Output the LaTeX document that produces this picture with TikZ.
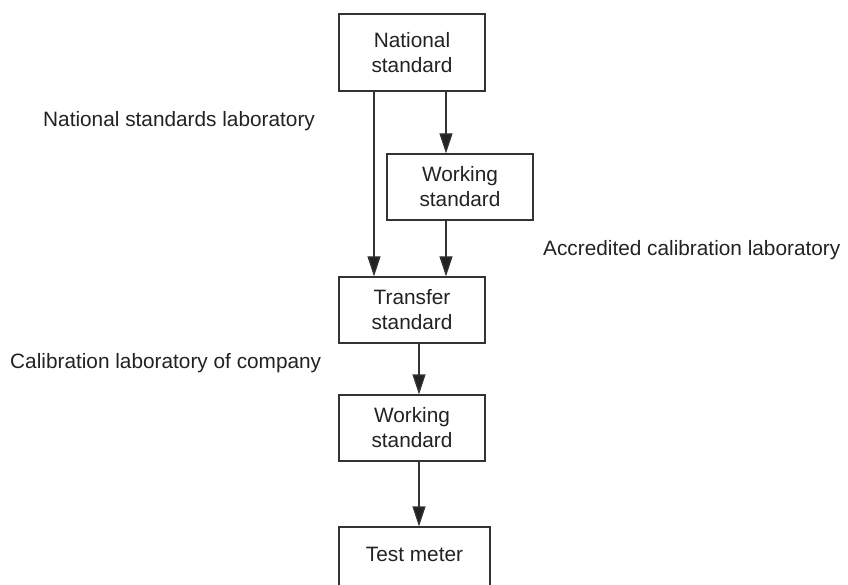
\documentclass[tikz,border=0pt]{standalone}
\usepackage{fontspec}
\setmainfont{Liberation Sans}
\usetikzlibrary{arrows.meta}
\definecolor{linegray}{HTML}{333333}
\definecolor{textgray}{HTML}{222222}

\tikzset{
  stdbox/.style={draw=linegray, line width=1.3, minimum width=146, minimum height=66,
    inner sep=0, align=center, text=textgray, font=\fontsize{20.8}{25}\selectfont},
  labtext/.style={anchor=base west, inner sep=0, text=textgray, font=\fontsize{20.8}{25}\selectfont},
  flow/.style={draw=linegray, line width=1.3, -{Triangle[length=20, width=13, fill=textgray]}}
}

\begin{document}
\begin{tikzpicture}[x=1pt, y=-1pt]
\useasboundingbox (0, 0) rectangle (848, 585);
\clip (0, 0) rectangle (848, 585);

% boxes
\node [stdbox, minimum height=77] (natstd) at (412, 52.5) {National\\standard};
\node [stdbox] (work1) at (460, 187) {Working\\standard};
\node [stdbox] (transfer) at (412, 310) {Transfer\\standard};
\node [stdbox] (work2) at (412, 428) {Working\\standard};
\node [stdbox, minimum width=151, text depth=12] (meter) at (414.5, 560) {Test meter};

% labels
\node [labtext] (natlab) at (43, 126.7) {National standards laboratory};
\node [labtext] (acclab) at (543, 256) {Accredited calibration laboratory};
\node [labtext] (complab) at (10, 368) {Calibration laboratory of company};

% arrows
\draw [flow] ([xshift=-38]natstd.south) -- ([xshift=-38]transfer.north);
\draw [flow] ([xshift=34]natstd.south) -- ([xshift=-14]work1.north);
\draw [flow] ([xshift=-14]work1.south) -- ([xshift=34]transfer.north);
\draw [flow] ([xshift=7]transfer.south) -- ([xshift=7]work2.north);
\draw [flow] ([xshift=7]work2.south) -- ([xshift=4.5]meter.north);

\end{tikzpicture}
\end{document}
